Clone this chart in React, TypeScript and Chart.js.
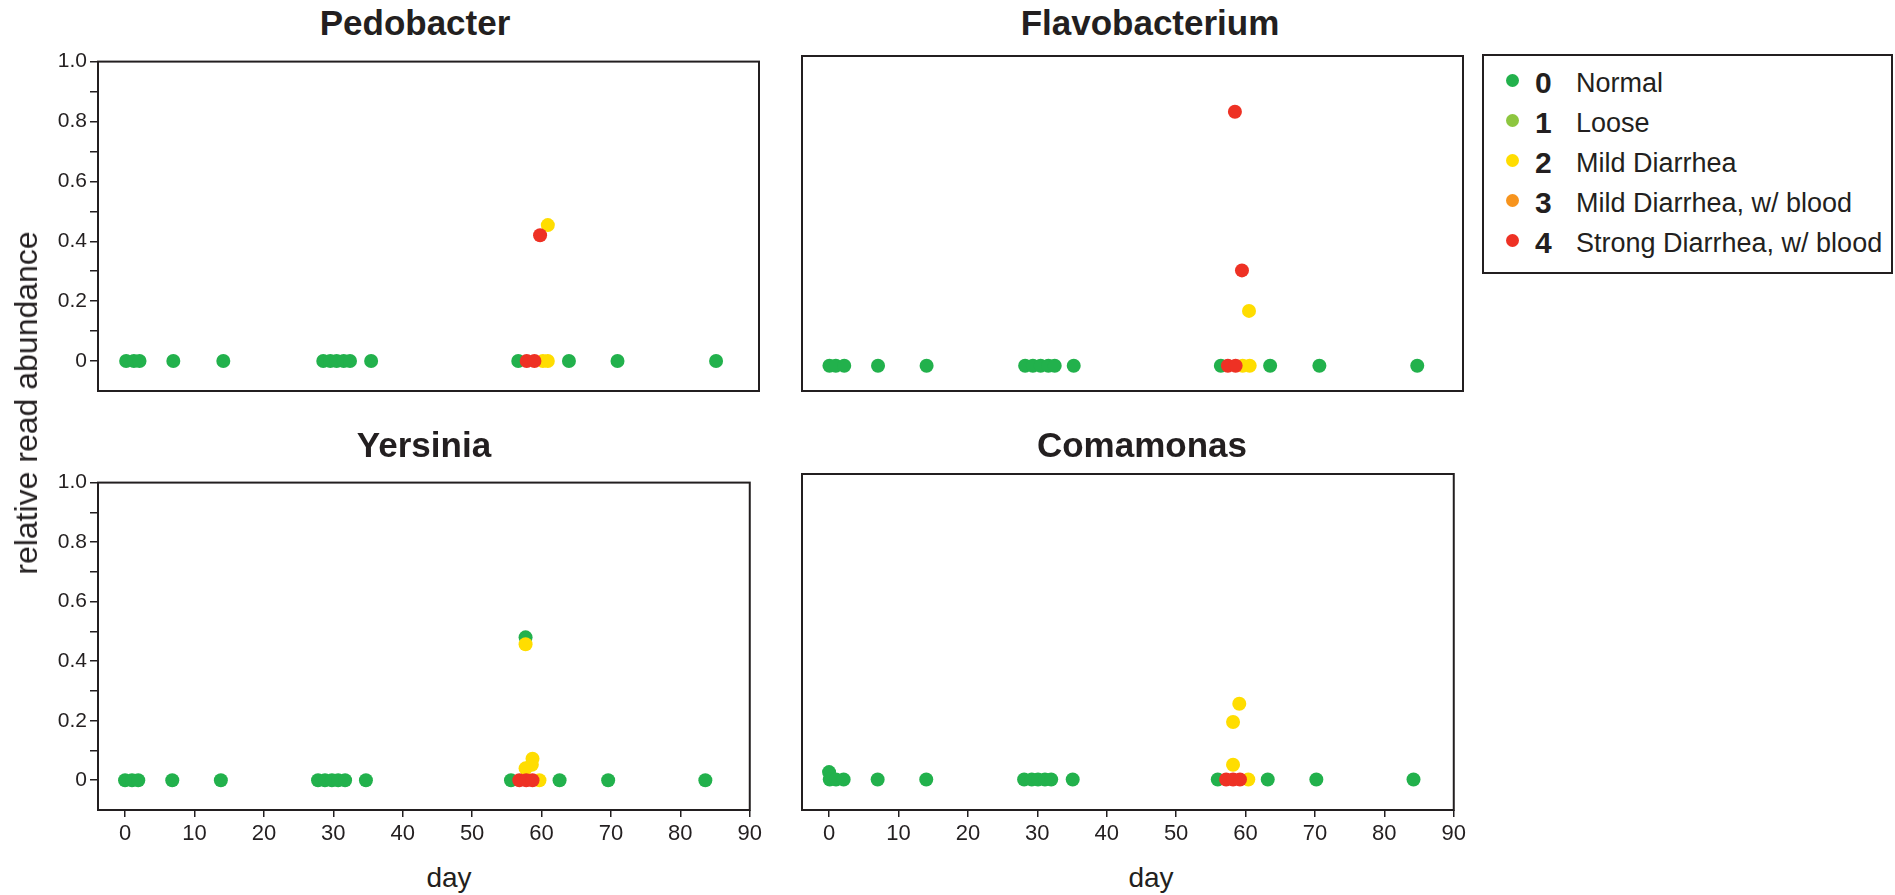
import React, { useEffect, useRef } from 'react';
import { Chart, registerables } from 'chart.js';

Chart.register(...registerables);

const FONT = "'Liberation Sans', Arial, Helvetica, sans-serif";
const INK = '#231f20';

// ---- legend categories ----
const SCORE_CODES = ['0', '1', '2', '3', '4'];
const SCORE_NAMES = ['Normal', 'Loose', 'Mild Diarrhea', 'Mild Diarrhea, w/ blood', 'Strong Diarrhea, w/ blood'];
const SCORE_COLORS = ['#22b14c', '#8dc63f', '#ffdd00', '#f7941d', '#ee3124'];

// ---- axes ----
const X_MIN = -3.9;
const X_MAX = 90;
const Y_MIN = -0.1;
const Y_MAX = 1.0;
const X_TICKS = [0, 10, 20, 30, 40, 50, 60, 70, 80, 90];
const Y_TICKS = [0, 0.1, 0.2, 0.3, 0.4, 0.5, 0.6, 0.7, 0.8, 0.9, 1.0];
const Y_TICK_LABELS = ['0', '', '0.2', '', '0.4', '', '0.6', '', '0.8', '', '1.0'];

// ---- Pedobacter ----
const PEDO_NORMAL_DAY = [0.1, 1.2, 2.0, 6.8, 13.9, 28.1, 29.1, 30.0, 31.0, 31.9, 34.9, 55.8, 63.0, 69.9, 83.9];
const PEDO_NORMAL_VAL = [0, 0, 0, 0, 0, 0, 0, 0, 0, 0, 0, 0, 0, 0, 0];
const PEDO_MILD_DAY = [59.3, 60.0, 60.0];
const PEDO_MILD_VAL = [0, 0, 0.454];
const PEDO_STRONG_DAY = [57.0, 58.1, 58.9];
const PEDO_STRONG_VAL = [0, 0, 0.42];

// ---- Flavobacterium ----
const FLAVO_NORMAL_DAY = [0.0, 0.9, 2.1, 6.9, 13.8, 27.8, 28.9, 30.0, 31.1, 32.0, 34.7, 55.6, 62.6, 69.6, 83.5];
const FLAVO_NORMAL_VAL = [-0.017, -0.017, -0.017, -0.017, -0.017, -0.017, -0.017, -0.017, -0.017, -0.017, -0.017, -0.017, -0.017, -0.017, -0.017];
const FLAVO_MILD_DAY = [58.7, 59.7, 59.6];
const FLAVO_MILD_VAL = [-0.017, -0.017, 0.163];
const FLAVO_STRONG_DAY = [56.6, 57.7, 57.6, 58.6];
const FLAVO_STRONG_VAL = [-0.017, -0.017, 0.817, 0.296];

// ---- Yersinia ----
const YERS_NORMAL_DAY = [0.0, 1.0, 1.9, 6.8, 13.8, 27.8, 28.8, 29.8, 30.7, 31.7, 34.7, 55.6, 57.7, 62.6, 69.6, 83.6];
const YERS_NORMAL_VAL = [0, 0, 0, 0, 0, 0, 0, 0, 0, 0, 0, 0, 0.48, 0, 0, 0];
const YERS_MILD_DAY = [57.7, 57.7, 58.6, 58.7, 59.7];
const YERS_MILD_VAL = [0.457, 0.04, 0.052, 0.072, 0];
const YERS_STRONG_DAY = [56.8, 57.8, 58.7];
const YERS_STRONG_VAL = [0, 0, 0];

// ---- Comamonas ----
const COMA_NORMAL_DAY = [0.0, 0.1, 1.0, 2.1, 7.0, 14.0, 28.1, 29.2, 30.1, 31.1, 32.0, 35.1, 56.0, 63.2, 70.2, 84.2];
const COMA_NORMAL_VAL = [0.024, 0, 0, 0, 0, 0, 0, 0, 0, 0, 0, 0, 0, 0, 0, 0];
const COMA_MILD_DAY = [58.2, 58.2, 59.1, 60.4];
const COMA_MILD_VAL = [0.048, 0.188, 0.248, 0];
const COMA_STRONG_DAY = [57.2, 58.2, 59.2];
const COMA_STRONG_VAL = [0, 0, 0];

type Series = { score: number; days: number[]; vals: number[] };
type PanelDef = {
  title: string;
  series: Series[];
  L: number; T: number; R: number; B: number;
  showX: boolean; showY: boolean;
  titleX: number; titleBase: number;
};

const PANELS: PanelDef[] = [
  {
    title: 'Pedobacter',
    series: [
      { score: 0, days: PEDO_NORMAL_DAY, vals: PEDO_NORMAL_VAL },
      { score: 2, days: PEDO_MILD_DAY, vals: PEDO_MILD_VAL },
      { score: 4, days: PEDO_STRONG_DAY, vals: PEDO_STRONG_VAL },
    ],
    L: 98, T: 52, R: 760, B: 391, showX: false, showY: true, titleX: 415, titleBase: 35,
  },
  {
    title: 'Flavobacterium',
    series: [
      { score: 0, days: FLAVO_NORMAL_DAY, vals: FLAVO_NORMAL_VAL },
      { score: 2, days: FLAVO_MILD_DAY, vals: FLAVO_MILD_VAL },
      { score: 4, days: FLAVO_STRONG_DAY, vals: FLAVO_STRONG_VAL },
    ],
    L: 802, T: 55, R: 1464, B: 391, showX: false, showY: false, titleX: 1150, titleBase: 35,
  },
  {
    title: 'Yersinia',
    series: [
      { score: 0, days: YERS_NORMAL_DAY, vals: YERS_NORMAL_VAL },
      { score: 2, days: YERS_MILD_DAY, vals: YERS_MILD_VAL },
      { score: 4, days: YERS_STRONG_DAY, vals: YERS_STRONG_VAL },
    ],
    L: 98, T: 473, R: 760, B: 810, showX: true, showY: true, titleX: 424, titleBase: 457,
  },
  {
    title: 'Comamonas',
    series: [
      { score: 0, days: COMA_NORMAL_DAY, vals: COMA_NORMAL_VAL },
      { score: 2, days: COMA_MILD_DAY, vals: COMA_MILD_VAL },
      { score: 4, days: COMA_STRONG_DAY, vals: COMA_STRONG_VAL },
    ],
    L: 802, T: 473, R: 1464, B: 810, showX: true, showY: false, titleX: 1142, titleBase: 457,
  },
];

const AX_LEFT = 60;
const AX_BOTTOM = 50;
const PAD = 6;

const boxPlugin = {
  id: 'panelBox',
  beforeDatasetsDraw(chart: any) {
    const { ctx, chartArea: a } = chart;
    ctx.save();
    ctx.strokeStyle = INK;
    ctx.lineWidth = 2;
    ctx.strokeRect(a.left, a.top, a.right - a.left, a.bottom - a.top);
    ctx.restore();
  },
};

function Panel({ p }: { p: PanelDef }) {
  const ref = useRef<HTMLCanvasElement | null>(null);
  const width = p.R - p.L + AX_LEFT + PAD;
  const height = p.B - p.T + AX_BOTTOM + PAD;

  useEffect(() => {
    if (!ref.current) return;
    const datasets = p.series.map((s) => ({
      label: SCORE_NAMES[s.score],
      data: s.days.map((d, i) => ({ x: d, y: s.vals[i] })),
      backgroundColor: SCORE_COLORS[s.score],
      borderColor: SCORE_COLORS[s.score],
      borderWidth: 0,
      pointRadius: 7,
      pointHoverRadius: 7,
      order: 4 - s.score,
    }));
    const chart = new Chart(ref.current, {
      type: 'scatter',
      data: { datasets },
      plugins: [boxPlugin],
      options: {
        animation: false,
        responsive: false,
        devicePixelRatio: 1,
        layout: {
          padding: {
            left: p.showY ? 0 : AX_LEFT,
            right: PAD,
            top: PAD,
            bottom: p.showX ? 0 : AX_BOTTOM,
          },
        },
        plugins: { legend: { display: false }, tooltip: { enabled: false } },
        scales: {
          x: {
            type: 'linear',
            min: X_MIN,
            max: X_MAX,
            display: p.showX,
            afterBuildTicks: (s: any) => {
              s.ticks = X_TICKS.map((v) => ({ value: v }));
            },
            afterFit: (s: any) => {
              s.height = p.showX ? AX_BOTTOM : 0;
            },
            grid: {
              display: true,
              drawOnChartArea: false,
              drawTicks: true,
              tickLength: 7,
              color: INK,
              lineWidth: 1.5,
            },
            border: { display: false },
            ticks: {
              autoSkip: false,
              maxRotation: 0,
              padding: 4,
              color: INK,
              font: { family: FONT, size: 22 },
              callback: (v: any) => String(v),
            },
          },
          y: {
            type: 'linear',
            min: Y_MIN,
            max: Y_MAX,
            display: p.showY,
            afterBuildTicks: (s: any) => {
              s.ticks = Y_TICKS.map((v) => ({ value: v }));
            },
            afterFit: (s: any) => {
              s.width = p.showY ? AX_LEFT : 0;
            },
            grid: {
              display: true,
              drawOnChartArea: false,
              drawTicks: true,
              tickLength: 8,
              color: INK,
              lineWidth: 1.5,
            },
            border: { display: false },
            ticks: {
              autoSkip: false,
              padding: 3,
              color: INK,
              font: { family: FONT, size: 21 },
              callback: (_v: any, i: number) => Y_TICK_LABELS[i],
            },
          },
        },
      } as any,
    });
    return () => chart.destroy();
  }, [p]);

  return (
    <canvas
      ref={ref}
      width={width}
      height={height}
      style={{ position: 'absolute', left: p.L - AX_LEFT, top: p.T - PAD, width, height }}
    />
  );
}

function Text({ x, base, size, bold, children, anchor }: any) {
  return (
    <div
      style={{
        position: 'absolute',
        left: x,
        top: base - 0.8465 * size,
        fontFamily: FONT,
        fontSize: size,
        lineHeight: `${size}px`,
        fontWeight: bold ? 'bold' : 'normal',
        color: INK,
        whiteSpace: 'nowrap',
        transform: anchor === 'middle' ? 'translateX(-50%)' : undefined,
      }}
    >
      {children}
    </div>
  );
}

export default function App() {
  const legendBase = [93, 133, 173, 213, 253];
  return (
    <div
      style={{
        position: 'fixed',
        left: 0,
        top: 0,
        width: 1895,
        height: 895,
        background: '#ffffff',
        overflow: 'hidden',
      }}
    >
      {PANELS.map((p) => (
        <Panel key={p.title} p={p} />
      ))}
      {PANELS.map((p) => (
        <Text key={p.title + 't'} x={p.titleX} base={p.titleBase} size={35} bold anchor="middle">
          {p.title}
        </Text>
      ))}
      <Text x={449} base={887.5} size={28} anchor="middle">day</Text>
      <Text x={1151} base={887.5} size={28} anchor="middle">day</Text>
      <div
        style={{
          position: 'absolute',
          left: 26,
          top: 403,
          transform: 'translate(-50%, -50%) rotate(-90deg)',
          fontFamily: FONT,
          fontSize: 32,
          lineHeight: '32px',
          color: INK,
          whiteSpace: 'nowrap',
        }}
      >
        relative read abundance
      </div>
      <div
        style={{
          position: 'absolute',
          left: 1482,
          top: 54,
          width: 407,
          height: 216,
          border: `2px solid ${INK}`,
        }}
      />
      {SCORE_CODES.map((c, i) => (
        <React.Fragment key={c}>
          <div
            style={{
              position: 'absolute',
              left: 1512 - 6.5,
              top: legendBase[i] - 13 - 6.5,
              width: 13,
              height: 13,
              borderRadius: '50%',
              background: SCORE_COLORS[i],
            }}
          />
          <Text x={1535} base={legendBase[i]} size={30} bold>{c}</Text>
          <Text x={1576} base={legendBase[i]} size={27}>{SCORE_NAMES[i]}</Text>
        </React.Fragment>
      ))}
    </div>
  );
}
